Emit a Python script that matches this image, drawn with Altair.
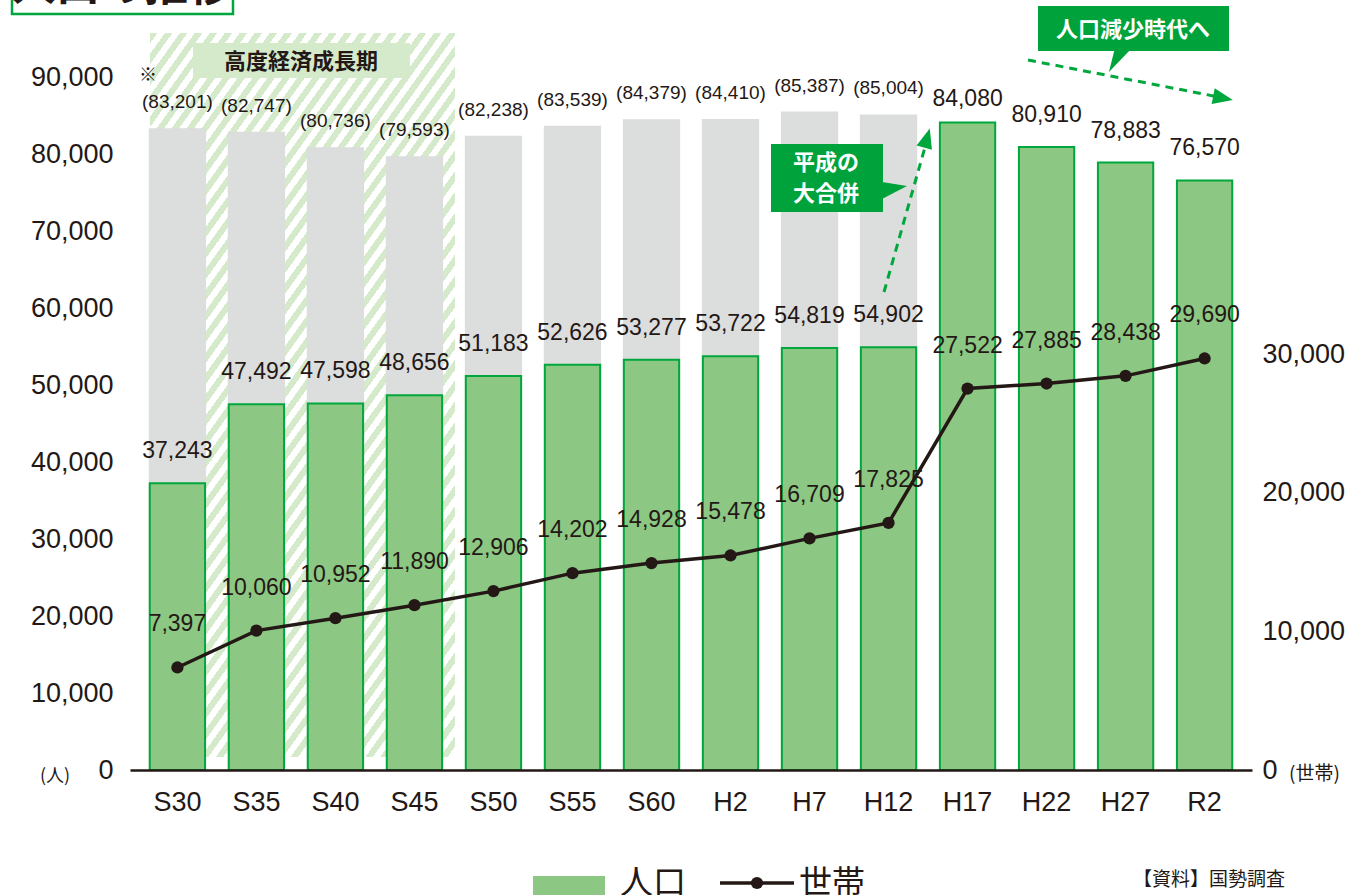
import altair as alt
import pandas as pd

# ---------------- data ----------------
years = ["S30", "S35", "S40", "S45", "S50", "S55", "S60",
         "H2", "H7", "H12", "H17", "H22", "H27", "R2"]
population = [37243, 47492, 47598, 48656, 51183, 52626, 53277,
              53722, 54819, 54902, 84080, 80910, 78883, 76570]
households = [7397, 10060, 10952, 11890, 12906, 14202, 14928,
              15478, 16709, 17825, 27522, 27885, 28438, 29690]
combined_years = ["S30", "S35", "S40", "S45", "S50", "S55", "S60", "H2", "H7", "H12"]
combined = [83201, 82747, 80736, 79593, 82238, 83539, 84379, 84410, 85387, 85004]
left_ticks = [0, 10000, 20000, 30000, 40000, 50000, 60000, 70000, 80000, 90000]
right_ticks = [0, 10000, 20000, 30000]

df = pd.DataFrame({"year": years, "pop": population, "hh": households})
df["pop_label"] = [f"{v:,}" for v in population]
df["hh_label"] = [f"{v:,}" for v in households]
dfc = pd.DataFrame({"year": combined_years, "comb": combined})
dfc["comb_label"] = [f"({v:,})" for v in combined]
one = pd.DataFrame({"k": [0]})

# ---------------- style ----------------
TXT = "#231815"
GREEN_FILL = "#8cc783"
GREEN_LINE = "#00a73c"
CALLOUT = "#00a33b"
STRIPE = "#d4eacb"
GREY = "#dcdddd"
NUM_FONT = "Liberation Sans, Arial, sans-serif"
AX_FONT = "Liberation Sans, Arial, sans-serif"
JP_FONT = "Noto Sans CJK JP"

OX, OY = 130, 77          # page position of the plot origin
PW, PH = 1122, 693


def vx(p):
    return alt.value(p - OX)


def vy(p):
    return alt.value(p - OY)


xscale = alt.Scale(paddingInner=0.3, paddingOuter=0.25)
xaxis = alt.Axis(title=None, labelAngle=0, ticks=False, labelFontSize=27,
                 labelFont=AX_FONT, labelColor=TXT, labelPadding=19,
                 domainColor=TXT, domainWidth=2.5, grid=False, zindex=1)
X = alt.X("year:N", sort=years, scale=xscale, axis=xaxis)

lscale = alt.Scale(domain=[0, 90000], nice=False, zero=True)
laxis = alt.Axis(title=None, values=left_ticks, format=",.0f", ticks=False,
                 domain=False, grid=False, labelFontSize=27, labelFont=AX_FONT,
                 labelColor=TXT, labelPadding=17, orient="left")
rscale = alt.Scale(domain=[0, 50000], nice=False, zero=True)
raxis = alt.Axis(title=None, values=right_ticks, format=",.0f", ticks=False,
                 domain=False, grid=False, labelFontSize=27, labelFont=AX_FONT,
                 labelColor=TXT, labelPadding=10, orient="right")


def LY(field):
    return alt.Y(field, type="quantitative", scale=lscale, axis=laxis)


def RY(field):
    return alt.Y(field, type="quantitative", scale=rscale, axis=raxis)


# ---------------- hatch (高度経済成長期) ----------------
HW, HH = 305, 724
slope = 1.4
r = slope * HW / HH
gy = (1 + r) / (1 + r * r)
gx = r * gy
N = 55
stops = []
for i in range(N):
    stops += [
        alt.GradientStop(offset=i / N, color=STRIPE),
        alt.GradientStop(offset=(i + 0.5) / N, color=STRIPE),
        alt.GradientStop(offset=(i + 0.5) / N, color="#ffffff"),
        alt.GradientStop(offset=(i + 1) / N, color="#ffffff"),
    ]
grad = alt.LinearGradient(gradient="linear", stops=stops, x1=0, y1=0, x2=gx, y2=gy)

hatch = alt.Chart(one).mark_rect(fill=grad).encode(
    x=vx(150), x2=vx(150 + HW), y=vy(33), y2=vy(33 + HH))
era_box = alt.Chart(one).mark_rect(fill=STRIPE).encode(
    x=vx(193), x2=vx(410), y=vy(43), y2=vy(78))
era_txt = alt.Chart(one).mark_text(font=JP_FONT, fontSize=22, fontWeight="bold",
                                   color=TXT, baseline="middle").encode(
    x=vx(301), y=vy(62), text=alt.value("高度経済成長期"))

# ---------------- data marks ----------------
grey_bars = alt.Chart(dfc).mark_bar(fill=GREY, stroke=GREY, strokeWidth=2).encode(
    x=X, y=LY("comb"))
grey_lbl = alt.Chart(dfc).mark_text(font=NUM_FONT, fontSize=19, color=TXT,
                                    baseline="middle", dy=-27).encode(
    x=X, y=LY("comb"), text="comb_label:N")
green_bars = alt.Chart(df).mark_bar(fill=GREEN_FILL, stroke=GREEN_LINE,
                                    strokeWidth=2).encode(x=X, y=LY("pop"))
pop_lbl = alt.Chart(df).transform_filter(alt.datum.year != "H17").mark_text(
    font=NUM_FONT, fontSize=23, color=TXT, baseline="middle", dy=-32).encode(
    x=X, y=LY("pop"), text="pop_label:N")
pop_lbl2 = alt.Chart(df).transform_filter(alt.datum.year == "H17").mark_text(
    font=NUM_FONT, fontSize=23, color=TXT, baseline="middle", dy=-24).encode(
    x=X, y=LY("pop"), text="pop_label:N")

left = alt.layer(hatch, era_box, grey_bars, green_bars, grey_lbl, pop_lbl,
                 pop_lbl2, era_txt)

hh_line = alt.Chart(df).mark_line(color=TXT, strokeWidth=3.5).encode(
    x=X, y=RY("hh"))
hh_pts = alt.Chart(df).mark_point(filled=True, size=150, color=TXT,
                                  opacity=1).encode(x=X, y=RY("hh"))
hh_lbl = alt.Chart(df).mark_text(font=NUM_FONT, fontSize=23, color=TXT,
                                 baseline="middle", dy=-43).encode(
    x=X, y=RY("hh"), text="hh_label:N")
right = alt.layer(hh_line, hh_pts, hh_lbl)

# ---------------- annotations ----------------
def txt(s, x, y, size, color=TXT, align="center", weight="normal",
        font=JP_FONT, baseline="middle"):
    return alt.Chart(one).mark_text(font=font, fontSize=size, color=color,
                                    align=align, fontWeight=weight,
                                    baseline=baseline).encode(
        x=vx(x), y=vy(y), text=alt.value(s))


def box(x1, x2, y1, y2, fill, stroke=None, sw=0):
    kw = dict(fill=fill)
    if stroke:
        kw.update(stroke=stroke, strokeWidth=sw)
    return alt.Chart(one).mark_rect(**kw).encode(
        x=vx(x1), x2=vx(x2), y=vy(y1), y2=vy(y2))


def sym(path, x, y, size, color, angle=0):
    return alt.Chart(one).mark_point(shape=path, filled=True, size=size,
                                     color=color, opacity=1, strokeWidth=0,
                                     angle=angle).encode(x=vx(x), y=vy(y))


def dashed(x1, y1, x2, y2):
    return alt.Chart(one).mark_rule(color=GREEN_LINE, strokeWidth=3,
                                    strokeDash=[8, 6]).encode(
        x=vx(x1), y=vy(y1), x2=vx(x2), y2=vy(y2))


ARROW = "M1,0 L-1,-0.8 L-1,0.8 Z"

annotations = [
    # title box (cut at top, as in the reference)
    box(12, 233, -30, 14, "#ffffff", GREEN_LINE, 2.5),
    txt("人口の推移", 122, 10, 44, weight="bold", baseline="bottom"),
    # 人口減少時代へ
    dashed(1028, 60, 1224, 98),
    sym(ARROW, 1223, 98, 400, GREEN_LINE, angle=11),
    box(1038, 1229, 6, 51, CALLOUT),
    sym("M-0.42,-1 L1,-1 L-0.92,1 Z", 1120, 60, 576, CALLOUT),
    txt("人口減少時代へ", 1133, 30, 22, color="#ffffff", weight="bold"),
    # 平成の大合併
    dashed(884, 292, 927, 140),
    sym(ARROW, 927, 138, 400, GREEN_LINE, angle=286),
    box(771, 883, 144, 212, CALLOUT),
    sym("M-1.04,-0.64 L0.96,-0.32 L-1.04,0.72 Z", 895, 190, 625, CALLOUT),
    txt("平成の", 826, 163, 22, color="#ffffff", weight="bold"),
    txt("大合併", 826, 194, 22, color="#ffffff", weight="bold"),
    # misc text
    txt("※", 148, 76, 18),
    txt("(人)", 40, 777, 18, align="left"),
    txt("(世帯)", 1289, 774, 19, align="left"),
    txt("【資料】国勢調査", 1133, 880, 19, align="left"),
    # legend
    box(533, 605, 876, 905, GREEN_FILL),
    txt("人口", 620, 884, 33, align="left"),
    alt.Chart(one).mark_rule(color=TXT, strokeWidth=3.5).encode(
        x=vx(720), x2=vx(794), y=vy(883)),
    sym("circle", 757, 883, 150, TXT),
    txt("世帯", 799, 884, 33, align="left"),
]

chart = alt.layer(left, right, *annotations).resolve_scale(
    y="independent"
).properties(
    width=PW, height=PH,
    autosize=alt.AutoSizeParams(type="none"),
    padding={"left": OX, "top": OY, "right": 1348 - OX - PW, "bottom": 895 - OY - PH},
    background="#ffffff",
).configure_view(stroke=None)

chart.save("out.html", embed_options={"renderer": "svg", "actions": False})
